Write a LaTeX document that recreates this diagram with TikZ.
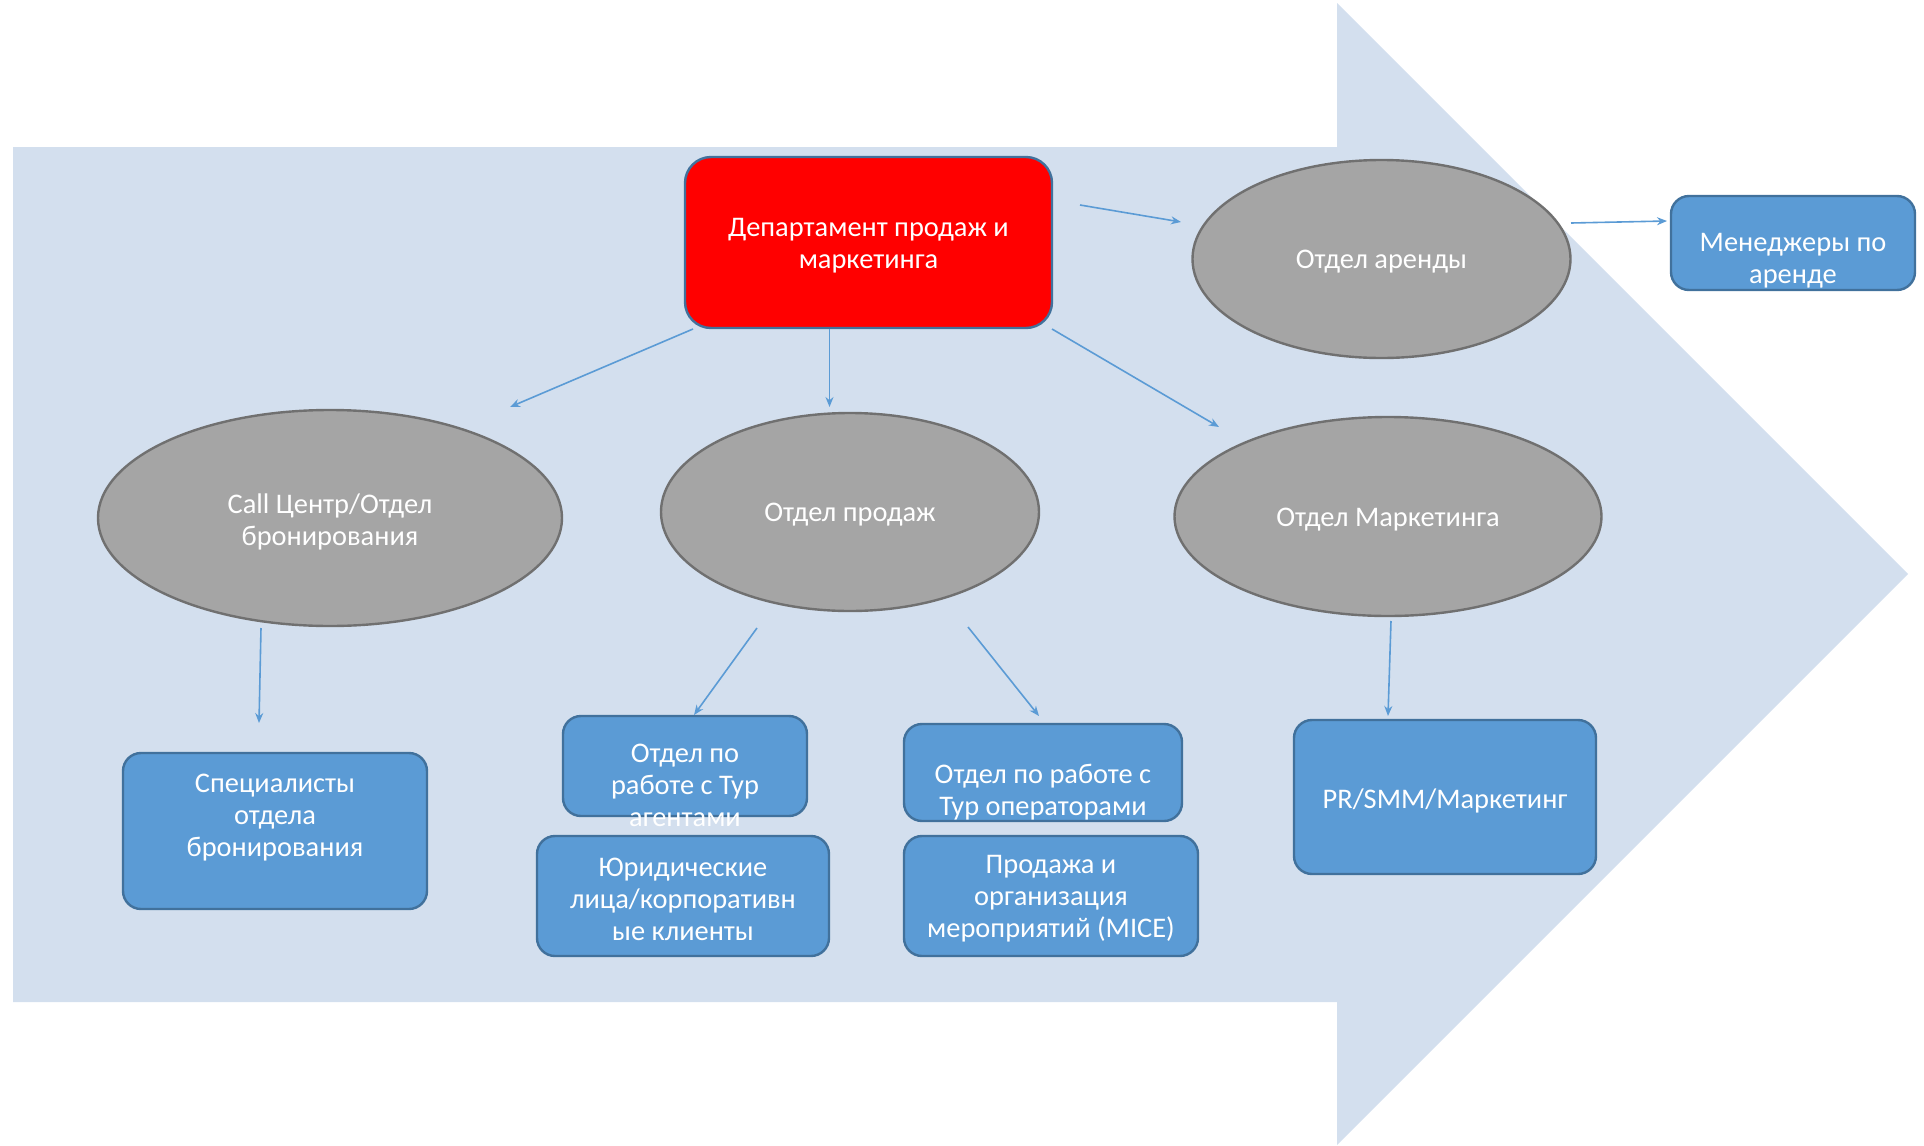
\documentclass[tikz,border=0pt]{standalone}
\usepackage{fontspec}
\setmainfont{Carlito}
\usetikzlibrary{shapes.geometric,arrows.meta}
\definecolor{bgarrow}{HTML}{D3DFEE}
\definecolor{boxblue}{HTML}{5B9BD5}
\definecolor{boxedge}{HTML}{41719C}
\definecolor{ellfill}{HTML}{A5A5A5}
\definecolor{elledge}{HTML}{707070}
\definecolor{linkblue}{HTML}{5B9BD5}
\tikzset{
  bluebox/.style={draw=boxedge, line width=1.2pt, fill=boxblue, rounded corners=9pt, inner sep=0pt},
  redbox/.style={draw=boxedge, line width=1.2pt, fill=red, rounded corners=13pt, inner sep=0pt},
  oval/.style={ellipse, draw=elledge, line width=1.2pt, fill=ellfill, inner sep=0pt},
  txt/.style={text=white, align=center, font=\fontsize{14.2}{16}\selectfont, inner sep=0pt, yshift=-1.5pt},
  link/.style={draw=linkblue, line width=0.8pt, -{Stealth[length=5pt,width=4pt]}}
}
\begin{document}
\begin{tikzpicture}[x=0.5pt,y=-0.5pt]
\useasboundingbox (0,0) rectangle (1924,1146);
% background arrow
\fill[bgarrow] (13,147) -- (1337,147) -- (1337,3) -- (1908,574) -- (1337,1145) -- (1337,1002) -- (13,1002) -- cycle;

% nodes
\node[redbox, minimum width=183.5pt, minimum height=85.5pt] (dep) at (868.5,242.5) {};
\node[txt] (tdep) at (868.5,243) {Департамент продаж и\\маркетинга};

\node[oval, minimum width=189pt, minimum height=99pt] (arenda) at (1381.5,259) {};
\node[txt] (tarenda) at (1381.5,259) {Отдел аренды};

\node[bluebox, minimum width=122pt, minimum height=47pt] (men) at (1793,243) {};
\node[txt] (tmen) at (1793,258) {Менеджеры по\\аренде};

\node[oval, minimum width=232pt, minimum height=108pt] (call) at (330,518) {};
\node[txt] (tcall) at (330,519) {Call Центр/Отдел\\бронирования};

\node[oval, minimum width=189pt, minimum height=99pt] (prod) at (850,512) {};
\node[txt] (tprod) at (850,512) {Отдел продаж};

\node[oval, minimum width=213.5pt, minimum height=99.5pt] (mark) at (1388,516.5) {};
\node[txt] (tmark) at (1388,517) {Отдел Маркетинга};

\node[bluebox, minimum width=152pt, minimum height=78pt] (spec) at (275,831) {};
\node[txt] (tspec) at (275,815) {Специалисты\\отдела\\бронирования};

\node[bluebox, minimum width=122pt, minimum height=50pt] (agent) at (685,766) {};
\node[txt] (tagent) at (685,782) {Отдел по\\работе с Тур\\агентами};

\node[bluebox, minimum width=146pt, minimum height=60pt] (jur) at (683,896) {};
\node[txt] (tjur) at (683,896) {Юридические\\лица/корпоративн\\ые клиенты};

\node[bluebox, minimum width=139pt, minimum height=48.5pt] (oper) at (1043,772.5) {};
\node[txt] (toper) at (1043,789) {Отдел по работе с\\Тур операторами};

\node[bluebox, minimum width=147pt, minimum height=60pt] (mice) at (1051,896) {};
\node[txt] (tmice) at (1051,896) {Продажа и\\организация\\мероприятий (MICE)};

\node[bluebox, minimum width=151pt, minimum height=77pt] (pr) at (1445,797) {};
\node[txt] (tpr) at (1445,798) {PR/SMM/Маркетинг};

% connector end points
\coordinate (a1) at (1080,205); \coordinate (a2) at (1181,222);
\coordinate (b1) at (1571,223); \coordinate (b2) at (1667,221);
\coordinate (c1) at (693,329);  \coordinate (c2) at (510,407);
\coordinate (d1) at (829.5,329); \coordinate (d2) at (829.5,407);
\coordinate (e1) at (1052,329); \coordinate (e2) at (1219,427);
\coordinate (f1) at (261,628);  \coordinate (f2) at (259,723);
\coordinate (g1) at (757,628);  \coordinate (g2) at (694,715);
\coordinate (h1) at (968,627);  \coordinate (h2) at (1039,716);
\coordinate (i1) at (1391,621); \coordinate (i2) at (1388,716);

\draw[link] (a1) -- (a2);
\draw[link] (b1) -- (b2);
\draw[link] (c1) -- (c2);
\draw[link] (d1) -- (d2);
\draw[link] (e1) -- (e2);
\draw[link] (f1) -- (f2);
\draw[link] (g1) -- (g2);
\draw[link] (h1) -- (h2);
\draw[link] (i1) -- (i2);
\end{tikzpicture}
\end{document}
